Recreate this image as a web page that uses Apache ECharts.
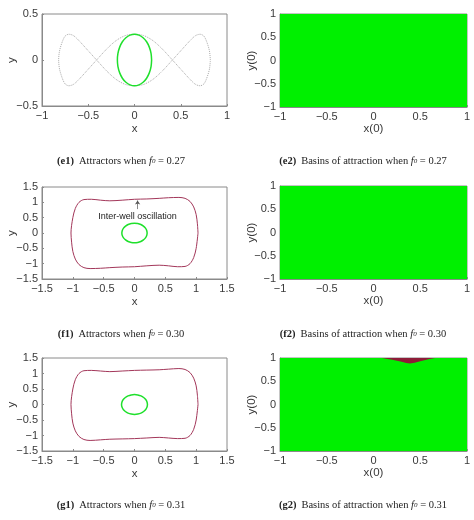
<!DOCTYPE html>
<html>
<head>
<meta charset="utf-8">
<style>
  html, body { margin: 0; padding: 0; background: #fff; }
  #main { width: 474px; height: 520px; }
</style>
<script src="https://cdn.jsdelivr.net/npm/echarts@6/dist/echarts.min.js"></script>
</head>
<body>
<div id="main"></div>
<script>
// values
const e1Orbit = [[0.82,0],[0.81,0.1],[0.78,0.2],[0.75,0.26],[0.71,0.28],[0.66,0.265],[0.6,0.21],[0.5,0.1],[0.41,0],[0.3,-0.12],[0.2,-0.21],[0.1,-0.265],[0,-0.28],[-0.1,-0.265],[-0.2,-0.21],[-0.3,-0.12],[-0.41,0],[-0.5,0.1],[-0.6,0.21],[-0.66,0.265],[-0.71,0.28],[-0.75,0.26],[-0.78,0.2],[-0.81,0.1],[-0.82,0],[-0.81,-0.1],[-0.78,-0.2],[-0.75,-0.26],[-0.71,-0.28],[-0.66,-0.265],[-0.6,-0.21],[-0.5,-0.1],[-0.41,0],[-0.3,0.12],[-0.2,0.21],[-0.1,0.265],[0,0.28],[0.1,0.265],[0.2,0.21],[0.3,0.12],[0.41,0],[0.5,-0.1],[0.6,-0.21],[0.66,-0.265],[0.71,-0.28],[0.75,-0.26],[0.78,-0.2],[0.81,-0.1],[0.82,0]];
const e1Well = [[0.185,0],[0.179,0.072],[0.16,0.14],[0.131,0.198],[0.093,0.242],[0.048,0.27],[0,0.28],[-0.048,0.27],[-0.093,0.242],[-0.131,0.198],[-0.16,0.14],[-0.179,0.072],[-0.185,0],[-0.179,-0.072],[-0.16,-0.14],[-0.131,-0.198],[-0.093,-0.242],[-0.048,-0.27],[0,-0.28],[0.048,-0.27],[0.093,-0.242],[0.131,-0.198],[0.16,-0.14],[0.179,-0.072],[0.185,0]];
const f1Inter = [[1.03,0],[1.02,0.3],[1,0.6],[0.96,0.85],[0.9,1.03],[0.82,1.13],[0.72,1.16],[0.55,1.15],[0.4,1.13],[0.2,1.11],[0,1.1],[-0.2,1.07],[-0.4,1.05],[-0.55,1.07],[-0.7,1.1],[-0.82,1.09],[-0.9,1.0],[-0.96,0.8],[-1,0.5],[-1.03,0],[-1.02,-0.3],[-1,-0.6],[-0.96,-0.85],[-0.9,-1.03],[-0.82,-1.13],[-0.72,-1.16],[-0.55,-1.15],[-0.4,-1.13],[-0.2,-1.11],[0,-1.1],[0.2,-1.07],[0.4,-1.05],[0.55,-1.07],[0.7,-1.1],[0.82,-1.09],[0.9,-1.0],[0.96,-0.8],[1,-0.5],[1.03,0]];
const f1Well = [[0.205,0],[0.198,0.083],[0.178,0.16],[0.145,0.226],[0.103,0.277],[0.053,0.309],[0,0.32],[-0.053,0.309],[-0.103,0.277],[-0.145,0.226],[-0.178,0.16],[-0.198,0.083],[-0.205,0],[-0.198,-0.083],[-0.178,-0.16],[-0.145,-0.226],[-0.103,-0.277],[-0.053,-0.309],[0,-0.32],[0.053,-0.309],[0.103,-0.277],[0.145,-0.226],[0.178,-0.16],[0.198,-0.083],[0.205,0]];
const g1Inter = [[1.03,0],[1.02,0.3],[1,0.6],[0.96,0.85],[0.9,1.03],[0.82,1.13],[0.72,1.16],[0.55,1.14],[0.4,1.12],[0.2,1.11],[0,1.1],[-0.2,1.08],[-0.4,1.06],[-0.55,1.08],[-0.7,1.1],[-0.82,1.09],[-0.9,1.0],[-0.96,0.8],[-1,0.5],[-1.03,0],[-1.02,-0.3],[-1,-0.6],[-0.96,-0.85],[-0.9,-1.03],[-0.82,-1.13],[-0.72,-1.16],[-0.55,-1.14],[-0.4,-1.12],[-0.2,-1.11],[0,-1.1],[0.2,-1.08],[0.4,-1.06],[0.55,-1.08],[0.7,-1.1],[0.82,-1.09],[0.9,-1.0],[0.96,-0.8],[1,-0.5],[1.03,0]];
const g1Well = [[0.21,0],[0.203,0.083],[0.182,0.16],[0.148,0.226],[0.105,0.277],[0.054,0.309],[0,0.32],[-0.054,0.309],[-0.105,0.277],[-0.148,0.226],[-0.182,0.16],[-0.203,0.083],[-0.21,0],[-0.203,-0.083],[-0.182,-0.16],[-0.148,-0.226],[-0.105,-0.277],[-0.054,-0.309],[0,-0.32],[0.054,-0.309],[0.105,-0.277],[0.148,-0.226],[0.182,-0.16],[0.203,-0.083],[0.21,0]];
const basinTop = [[-1,1],[1,1]];
const g2Basin = [[0.09,1],[0.15,0.98],[0.2,0.96],[0.3,0.92],[0.35,0.89],[0.39,0.88],[0.44,0.9],[0.5,0.93],[0.6,0.98],[0.66,1]];

const GREEN = "#1fe02c";
const BASIN = "#00f000";
const DARK = "#8e1c38";
const TEXT = "#3a3a3a";
const SANS = "Liberation Sans";

const chart = echarts.init(document.getElementById("main"));

const grids = [
  { left: 42, width: 185, top: 14, height: 92 },
  { left: 280, width: 187, top: 14, height: 93 },
  { left: 42, width: 185, top: 187, height: 92 },
  { left: 280, width: 187, top: 186, height: 93 },
  { left: 42, width: 185, top: 358, height: 93 },
  { left: 280, width: 187, top: 358, height: 93 }
].map(function (g) {
  return Object.assign({ show: true, borderColor: "#8a8a8a", borderWidth: 1, backgroundColor: "#fff" }, g);
});

function tick(v) {
  return String(v).replace("-", "\u2212");
}

function axis(name, gridIndex, min, max, gap) {
  return {
    type: "value", gridIndex: gridIndex, min: min, max: max, interval: 0.5,
    name: name, nameLocation: "middle", nameGap: gap, nameMoveOverlap: false,
    nameTextStyle: { color: TEXT, fontFamily: SANS, fontSize: 11.5 },
    axisLine: { show: true, onZero: false, lineStyle: { color: "#8a8a8a" } },
    axisTick: { show: true, inside: true, length: 2, lineStyle: { color: "#8a8a8a" } },
    axisLabel: { color: TEXT, fontFamily: SANS, fontSize: 11, margin: 4, formatter: tick, hideOverlap: false, showMinLabel: true, showMaxLabel: true },
    splitLine: { show: false }
  };
}

const xAxes = [
  axis("x", 0, -1, 1, 17), axis("x(0)", 1, -1, 1, 16),
  axis("x", 2, -1.5, 1.5, 17), axis("x(0)", 3, -1, 1, 16),
  axis("x", 4, -1.5, 1.5, 17), axis("x(0)", 5, -1, 1, 16)
];
const yAxes = [
  axis("y", 0, -0.5, 0.5, 24), axis("y(0)", 1, -1, 1, 22),
  axis("y", 2, -1.5, 1.5, 24), axis("y(0)", 3, -1, 1, 22),
  axis("y", 4, -1.5, 1.5, 24), axis("y(0)", 5, -1, 1, 22)
];

function curve(i, data, color, width, type) {
  return {
    type: "line", xAxisIndex: i, yAxisIndex: i, data: data, smooth: 0.3, showSymbol: false, silent: true,
    lineStyle: { color: color, width: width, type: type || "solid" }
  };
}

function basin(i) {
  return {
    type: "line", xAxisIndex: i, yAxisIndex: i, data: basinTop, showSymbol: false, silent: true,
    lineStyle: { width: 0 }, areaStyle: { color: BASIN, opacity: 1, origin: "start" }
  };
}

const interSeries = curve(2, f1Inter, "#a3375a", 1);
interSeries.markLine = {
  silent: true, symbol: ["none", "arrow"], symbolSize: 4, label: { show: false },
  lineStyle: { color: "#555", width: 0.7, type: "solid" },
  data: [[{ coord: [0.05, 0.78] }, { coord: [0.05, 1.06] }]]
};
interSeries.markPoint = {
  silent: true, symbol: "circle", symbolSize: 0,
  label: { show: true, formatter: "Inter-well oscillation", position: "inside", color: "#222", fontFamily: SANS, fontSize: 9 },
  data: [{ coord: [0.05, 0.55] }]
};

const redBasin = {
  type: "line", xAxisIndex: 5, yAxisIndex: 5, data: g2Basin, showSymbol: false, silent: true,
  lineStyle: { width: 0 }, areaStyle: { color: DARK, opacity: 1, origin: "end" }
};

function caption(x, y, tag, label, value) {
  return {
    text: "{b|" + tag + "} {n|" + label + " }{i|f}{s|0}{n| = " + value + "}",
    left: x, top: y, textAlign: "center", padding: 0,
    textStyle: {
      fontWeight: "normal",
      rich: {
        b: { fontFamily: "Liberation Serif", fontWeight: "bold", fontSize: 10.5, color: "#222" },
        n: { fontFamily: "Liberation Serif", fontWeight: "normal", fontSize: 10.5, color: "#222" },
        i: { fontFamily: "Liberation Serif", fontWeight: "normal", fontStyle: "italic", fontSize: 10.5, color: "#222" },
        s: { fontFamily: "Liberation Serif", fontWeight: "normal", fontStyle: "italic", fontSize: 7, color: "#222" }
      }
    }
  };
}

chart.setOption({
  animation: false,
  backgroundColor: "#fff",
  title: [
    caption(121, 152, "(e1)", "Attractors when", "0.27"),
    caption(363, 152, "(e2)", "Basins of attraction when", "0.27"),
    caption(121, 325, "(f1)", "Attractors when", "0.30"),
    caption(363, 325, "(f2)", "Basins of attraction when", "0.30"),
    caption(121, 496, "(g1)", "Attractors when", "0.31"),
    caption(363, 496, "(g2)", "Basins of attraction when", "0.31")
  ],
  grid: grids,
  xAxis: xAxes,
  yAxis: yAxes,
  series: [
    curve(0, e1Orbit, "#aaaaaa", 1, "dotted"),
    curve(0, e1Well, GREEN, 1.5),
    basin(1),
    interSeries,
    curve(2, f1Well, GREEN, 1.5),
    basin(3),
    curve(4, g1Inter, "#a3375a", 1),
    curve(4, g1Well, GREEN, 1.5),
    basin(5),
    redBasin
  ]
});

window.addEventListener("resize", function () { chart.resize(); });
</script>
</body>
</html>
